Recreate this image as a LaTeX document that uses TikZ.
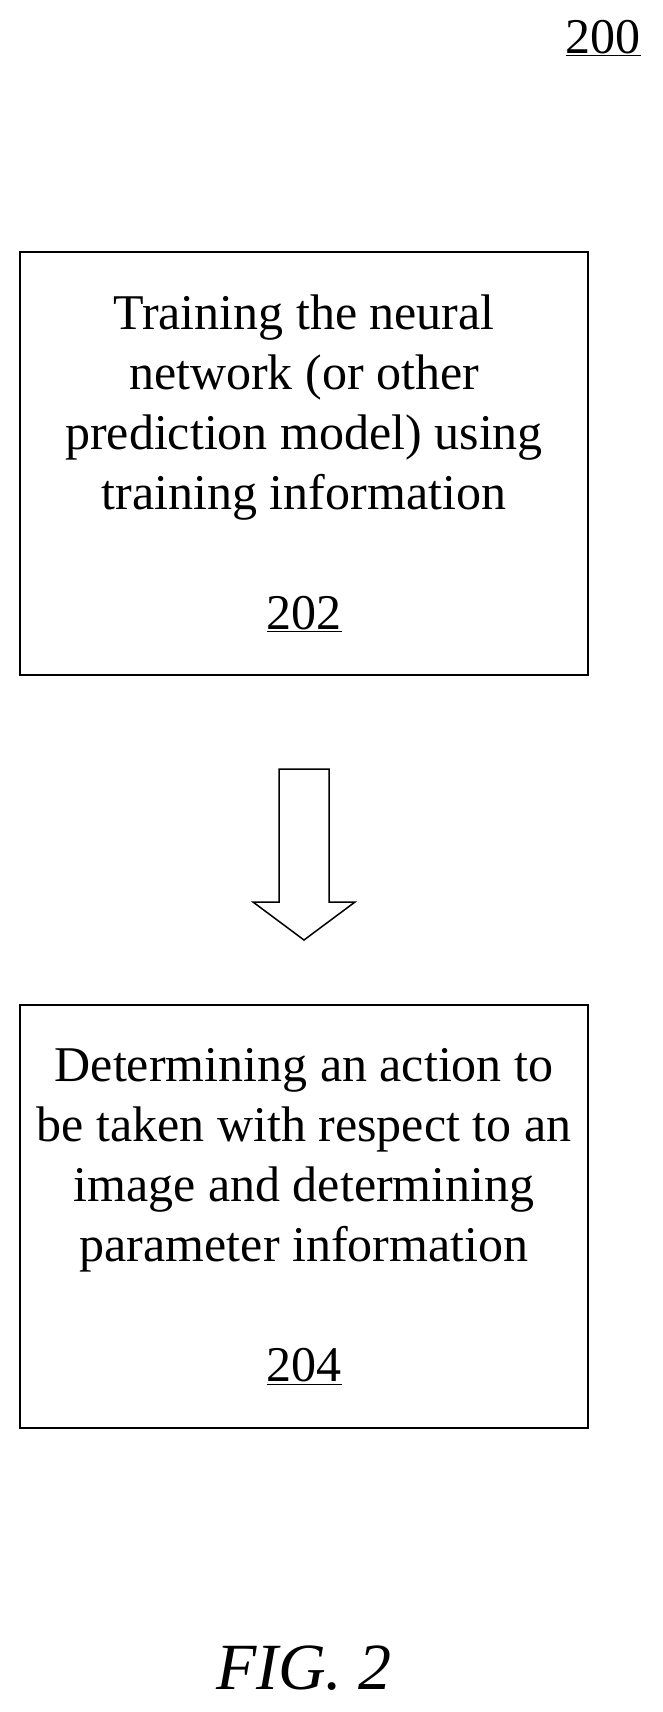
\documentclass[tikz,border=0pt]{standalone}
\usepackage{fontspec}
\setmainfont{Liberation Serif}
\usetikzlibrary{calc,positioning}

\begin{document}
\begin{tikzpicture}[x=1pt,y=1pt,line width=2pt,
	stepbox/.style={draw,minimum width=568pt,minimum height=423pt,align=center,
		font=\fontsize{50}{60}\selectfont,inner sep=0pt},
	reflabel/.style={font=\fontsize{50}{56}\selectfont}]
	\useasboundingbox (0,0) rectangle (663,-1712);

	\node[reflabel,anchor=east] (fig) at (645,-38) {\underline{200}};

	%steps
	\node[stepbox] (train) at (304,-463.5) {Training the neural\\network (or other\\prediction model) using\\training information\\[60pt]\underline{202}};
	\node[stepbox] (act) at (304,-1216.5) {Determining an action to\\be taken with respect to an\\image and determining\\parameter information\\[60pt]\underline{204}};

	%block arrow
	\coordinate (top) at ($(train.south)+(0,-93)$);
	\coordinate (tip) at ($(act.north)+(0,64)$);
	\draw[line width=1.5pt] ($(top)+(-25,0)$) -- ($(top)+(25,0)$) -- ($(tip)+(25,38)$)
		-- ($(tip)+(51,38)$) -- (tip) -- ($(tip)+(-51,38)$) -- ($(tip)+(-25,38)$) -- cycle;

	\node[font=\fontsize{66}{70}\selectfont\itshape] (caption) at (304,-1668) {FIG. 2};
\end{tikzpicture}
\end{document}
